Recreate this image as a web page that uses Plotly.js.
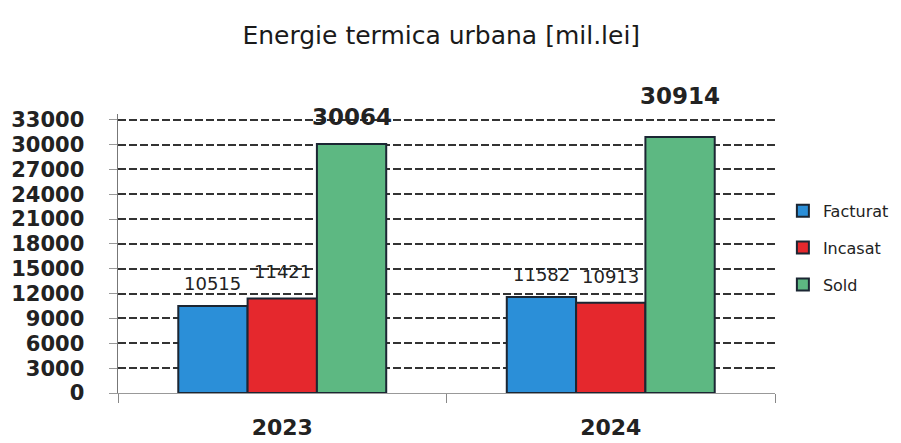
<!DOCTYPE html>
<html>
<head>
<meta charset="utf-8">
<script src="https://cdn.plot.ly/plotly-3.0.1.min.js"></script>
<style>html,body{margin:0;padding:0;background:#fff;}</style>
</head>
<body>
<div id="chart" style="width:901px;height:443px;"></div>
<script>
const years = ["2023", "2024"];
const seriesNames = ["Facturat", "Incasat", "Sold"];
const facturat = [10515, 11582];
const incasat = [11421, 10913];
const sold = [30064, 30914];
const yTicks = [0, 3000, 6000, 9000, 12000, 15000, 18000, 21000, 24000, 27000, 30000, 33000];

const colors = ["#2b8fd8", "#e5282d", "#5db882"];
const values = [facturat, incasat, sold];
const bargap = 0.367;
const barW = (1 - bargap) / 3;

const traces = values.map((v, i) => ({
  type: "bar",
  name: seriesNames[i],
  x: years,
  y: v,
  legendgroup: seriesNames[i],
  marker: {color: colors[i], line: {color: "#1b2633", width: 2}},
  hoverinfo: "skip"
}));

const labelStyle = [
  {size: 18, bold: false, shift: 10},
  {size: 18, bold: false, shift: 14},
  {size: 23, bold: true, shift: 12}
];
const annotations = [];
values.forEach((v, i) => {
  v.forEach((val, j) => {
    annotations.push({
      xref: "x", yref: "y",
      x: j + (i - 1) * barW,
      y: val,
      text: labelStyle[i].bold ? "<b>" + val + "</b>" : String(val),
      showarrow: false,
      yanchor: "bottom",
      yshift: labelStyle[i].shift + (i === 2 && j === 1 ? 14 : 0),
      font: {family: "DejaVu Sans", size: labelStyle[i].size, color: "#222"}
    });
  });
});

const layout = {
  width: 901, height: 443,
  paper_bgcolor: "#fff", plot_bgcolor: "#fff",
  margin: {l: 118, r: 126, t: 114, b: 50, autoexpand: false},
  title: {
    text: "Energie termica urbana [mil.lei]",
    font: {family: "DejaVu Sans", size: 25, color: "#1a1a1a"},
    x: 0.492, xref: "paper", y: 0.92, yref: "container", yanchor: "middle"
  },
  barmode: "group",
  bargap: bargap,
  bargroupgap: 0,
  xaxis: {
    type: "category",
    tickfont: {family: "DejaVu Sans", size: 22, color: "#222", weight: "bold"},
    ticks: "outside", tickson: "boundaries", ticklen: 9, tickcolor: "#888", tickwidth: 1,
    showline: true, linecolor: "#999", linewidth: 1,
    showgrid: false,
    ticklabelstandoff: 15,
    automargin: false
  },
  yaxis: {
    range: [0, 33700],
    tickvals: yTicks,
    ticktext: yTicks.map(String),
    tickfont: {family: "DejaVu Sans", size: 21, color: "#222", weight: "bold"},
    ticks: "outside", ticklen: 8, tickcolor: "#999", tickwidth: 1,
    showline: true, linecolor: "#777", linewidth: 1.5,
    showgrid: true, gridcolor: "#333", gridwidth: 2, griddash: "8px,3px",
    zeroline: true, zerolinecolor: "#999", zerolinewidth: 1,
    ticklabelstandoff: 20,
    automargin: false
  },
  legend: {
    x: 1.012, xanchor: "left", y: 0.52, yanchor: "middle",
    font: {family: "DejaVu Sans", size: 16, color: "#222"},
    traceorder: "grouped", tracegroupgap: 13, itemwidth: 30
  },
  annotations: annotations
};

Plotly.newPlot("chart", traces, layout, {displayModeBar: false, staticPlot: true});
</script>
</body>
</html>
